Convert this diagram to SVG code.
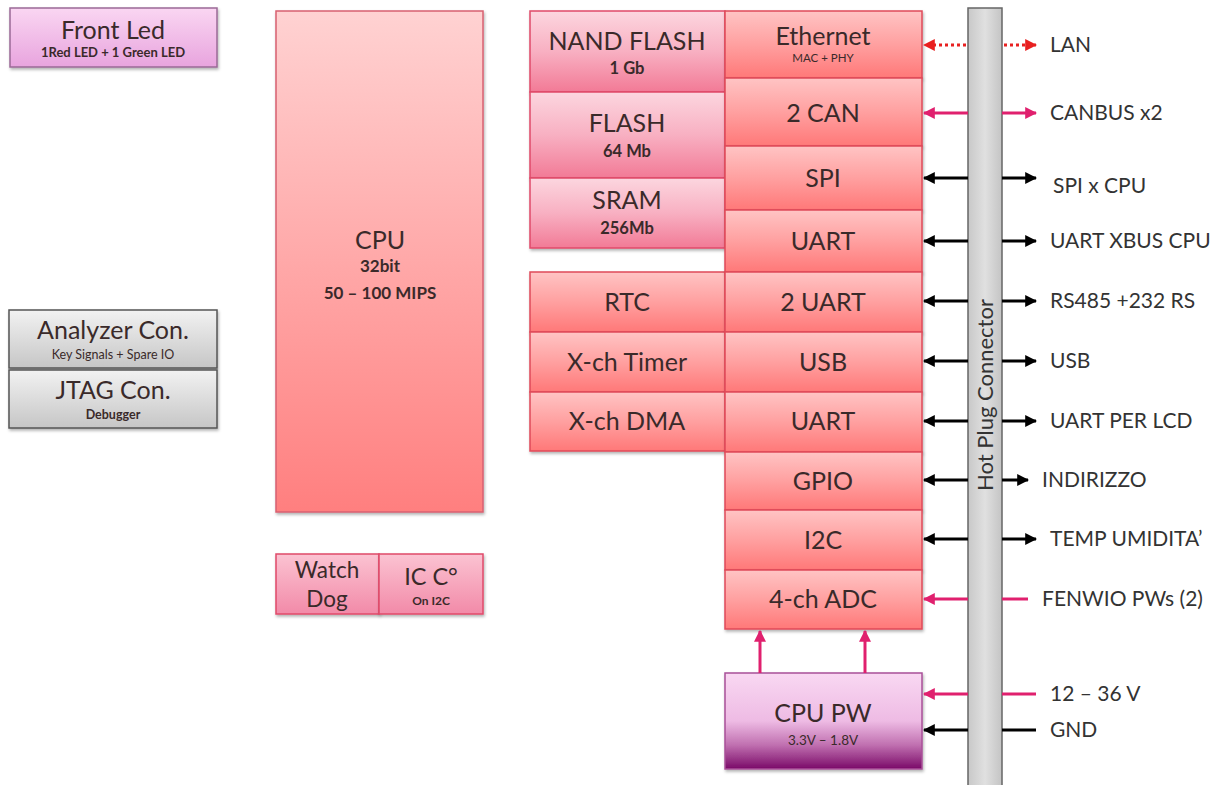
<svg xmlns="http://www.w3.org/2000/svg" width="1218" height="785" viewBox="0 0 1218 785">
<defs>
<linearGradient id="gCpu" x1="0" y1="0" x2="0" y2="1"><stop offset="0" stop-color="#ffd2d2"/><stop offset="1" stop-color="#ff7f7f"/></linearGradient>
<linearGradient id="gRed" x1="0" y1="0" x2="0" y2="1"><stop offset="0" stop-color="#ffc4c4"/><stop offset="0.5" stop-color="#ffa0a0"/><stop offset="1" stop-color="#ff7878"/></linearGradient>
<linearGradient id="gPink" x1="0" y1="0" x2="0" y2="1"><stop offset="0" stop-color="#fcd6df"/><stop offset="0.5" stop-color="#f8b0c2"/><stop offset="1" stop-color="#f27a96"/></linearGradient>
<linearGradient id="gWd" x1="0" y1="0" x2="0" y2="1"><stop offset="0" stop-color="#fbc3d2"/><stop offset="1" stop-color="#f28aa8"/></linearGradient>
<linearGradient id="gLed" x1="0" y1="0" x2="0" y2="1"><stop offset="0" stop-color="#fad6f2"/><stop offset="1" stop-color="#e8a4de"/></linearGradient>
<linearGradient id="gGray" x1="0" y1="0" x2="0" y2="1"><stop offset="0" stop-color="#f2f2f2"/><stop offset="1" stop-color="#c6c6c6"/></linearGradient>
<linearGradient id="gPw" x1="0" y1="0" x2="0" y2="1"><stop offset="0" stop-color="#f9d8f2"/><stop offset="0.5" stop-color="#eebbe4"/><stop offset="0.75" stop-color="#c070b0"/><stop offset="1" stop-color="#7a0a68"/></linearGradient>
<linearGradient id="gBar" x1="0" y1="0" x2="1" y2="0"><stop offset="0" stop-color="#c8c8c8"/><stop offset="0.5" stop-color="#e0e0e0"/><stop offset="1" stop-color="#c4c4c4"/></linearGradient>
<filter id="sh" x="-10%" y="-10%" width="130%" height="130%"><feDropShadow dx="1" dy="2" stdDeviation="1.5" flood-color="#000" flood-opacity="0.3"/></filter>
<marker id="aK" viewBox="0 0 10 10" refX="9" refY="5" markerWidth="4" markerHeight="4" orient="auto-start-reverse" markerUnits="strokeWidth"><path d="M0,0 L10,5 L0,10 z" fill="#000"/></marker>
<marker id="aP" viewBox="0 0 10 10" refX="9" refY="5" markerWidth="4" markerHeight="4" orient="auto-start-reverse" markerUnits="strokeWidth"><path d="M0,0 L10,5 L0,10 z" fill="#e0206e"/></marker>
<marker id="aR" viewBox="0 0 10 10" refX="9" refY="5" markerWidth="4" markerHeight="4" orient="auto-start-reverse" markerUnits="strokeWidth"><path d="M0,0 L10,5 L0,10 z" fill="#e82020"/></marker>
</defs>
<style>
text{font-family:Lato,"Liberation Sans",sans-serif;fill:#3a2a2a;text-anchor:middle}
.t{font-size:25px}
.s{font-size:16.5px;font-weight:bold}
.lbl{font-size:21px;text-anchor:start;fill:#333}
.red{fill:url(#gRed);stroke:#e04a5a;stroke-width:1.5}
.pink{fill:url(#gPink);stroke:#e04a6a;stroke-width:1.5}
.k{stroke:#000;stroke-width:3;fill:none}
.p{stroke:#e0206e;stroke-width:3;fill:none}
.r{stroke:#e82020;stroke-width:3;fill:none;stroke-dasharray:3,3}
</style>
<rect width="1218" height="785" fill="#fff"/>

<g id="front-led"><rect x="10" y="8" width="207" height="59" fill="url(#gLed)" stroke="#9a6a96" stroke-width="1.5" filter="url(#sh)"/><text x="113" y="39" class="t">Front Led</text><text x="113" y="57" style="font-size:13px;font-weight:bold">1Red LED + 1 Green LED</text></g>

<g id="analyzer"><rect x="9" y="310" width="208" height="58" fill="url(#gGray)" stroke="#555" stroke-width="1.5" filter="url(#sh)"/><text x="113" y="339" class="t">Analyzer  Con.</text><text x="113" y="359" style="font-size:12.5px">Key Signals + Spare IO</text></g>
<g id="jtag"><rect x="9" y="370" width="208" height="58" fill="url(#gGray)" stroke="#555" stroke-width="1.5" filter="url(#sh)"/><text x="113" y="399" class="t">JTAG Con.</text><text x="113" y="419" style="font-size:12.5px;font-weight:bold">Debugger</text></g>

<g id="cpu"><rect x="276" y="11" width="207" height="501" fill="url(#gCpu)" stroke="#d86070" stroke-width="1.5" filter="url(#sh)"/><text x="380" y="249" class="t">CPU</text><text x="380" y="272" style="font-size:17px;font-weight:bold">32bit</text><text x="380" y="299" style="font-size:17px;font-weight:bold">50 – 100 MIPS</text></g>

<g id="watchdog"><rect x="276" y="554" width="103" height="60" fill="url(#gWd)" stroke="#e04a6a" stroke-width="1.5" filter="url(#sh)"/><text x="327" y="578" style="font-size:22.5px">Watch</text><text x="327" y="607" style="font-size:22.5px">Dog</text></g>
<g id="icc"><rect x="379" y="554" width="104" height="60" fill="url(#gWd)" stroke="#e04a6a" stroke-width="1.5" filter="url(#sh)"/><text x="431" y="585" style="font-size:23.5px">IC C°</text><text x="431" y="605" style="font-size:12px;font-weight:bold">On I2C</text></g>

<g id="nand"><rect x="530" y="11" width="195" height="81" class="pink" filter="url(#sh)"/><text x="627" y="50" class="t">NAND FLASH</text><text x="627" y="74" class="s">1 Gb</text></g>
<g id="flash"><rect x="530" y="92" width="195" height="86" class="pink" filter="url(#sh)"/><text x="627" y="132" class="t">FLASH</text><text x="627" y="157" class="s">64 Mb</text></g>
<g id="sram"><rect x="530" y="178" width="195" height="70" class="pink" filter="url(#sh)"/><text x="627" y="209" class="t">SRAM</text><text x="627" y="234" class="s">256Mb</text></g>

<g id="rtc"><rect x="530" y="272" width="195" height="60" class="red" filter="url(#sh)"/><text x="627" y="311" class="t">RTC</text></g>
<g id="timer"><rect x="530" y="332" width="195" height="60" class="red" filter="url(#sh)"/><text x="627" y="371" class="t">X-ch Timer</text></g>
<g id="dma"><rect x="530" y="392" width="195" height="59" class="red" filter="url(#sh)"/><text x="627" y="430" class="t">X-ch DMA</text></g>

<g id="ethernet"><rect x="725" y="11" width="197" height="67" class="red" filter="url(#sh)"/><text x="823" y="45" class="t">Ethernet</text><text x="823" y="62" style="font-size:11.5px">MAC + PHY</text></g>
<g id="can"><rect x="725" y="78" width="197" height="68" class="red" filter="url(#sh)"/><text x="823" y="122" class="t">2 CAN</text></g>
<g id="spi"><rect x="725" y="146" width="197" height="64" class="red" filter="url(#sh)"/><text x="823" y="187" class="t">SPI</text></g>
<g id="uart1"><rect x="725" y="210" width="197" height="62" class="red" filter="url(#sh)"/><text x="823" y="250" class="t">UART</text></g>
<g id="uart2"><rect x="725" y="272" width="197" height="60" class="red" filter="url(#sh)"/><text x="823" y="311" class="t">2 UART</text></g>
<g id="usb"><rect x="725" y="332" width="197" height="60" class="red" filter="url(#sh)"/><text x="823" y="371" class="t">USB</text></g>
<g id="uart3"><rect x="725" y="392" width="197" height="60" class="red" filter="url(#sh)"/><text x="823" y="430" class="t">UART</text></g>
<g id="gpio"><rect x="725" y="452" width="197" height="58" class="red" filter="url(#sh)"/><text x="823" y="490" class="t">GPIO</text></g>
<g id="i2c"><rect x="725" y="510" width="197" height="60" class="red" filter="url(#sh)"/><text x="823" y="549" class="t">I2C</text></g>
<g id="adc"><rect x="725" y="570" width="197" height="59" class="red" filter="url(#sh)"/><text x="823" y="608" class="t">4-ch ADC</text></g>

<g id="cpupw"><rect x="725" y="673" width="197" height="96" fill="url(#gPw)" stroke="#a85098" stroke-width="1.5" filter="url(#sh)"/><text x="823" y="722" class="t">CPU PW</text><text x="823" y="745" style="font-size:13.5px">3.3V – 1.8V</text></g>

<g id="hotplug"><rect x="968" y="8" width="34" height="790" fill="url(#gBar)" stroke="#666" stroke-width="1.5"/><text transform="translate(993,395) rotate(-90)" style="font-size:22px;fill:#333">Hot Plug Connector</text></g>

<g id="connectors">
<line x1="966" y1="45" x2="924" y2="45" class="r" marker-end="url(#aR)"/>
<line x1="1004" y1="45" x2="1036" y2="45" class="r" marker-end="url(#aR)"/>
<line x1="968" y1="113" x2="924" y2="113" class="p" marker-end="url(#aP)"/>
<line x1="1002" y1="113" x2="1036" y2="113" class="p" marker-end="url(#aP)"/>
<line x1="968" y1="178" x2="924" y2="178" class="k" marker-end="url(#aK)"/>
<line x1="1002" y1="178" x2="1036" y2="178" class="k" marker-end="url(#aK)"/>
<line x1="968" y1="241" x2="924" y2="241" class="k" marker-end="url(#aK)"/>
<line x1="1002" y1="241" x2="1036" y2="241" class="k" marker-end="url(#aK)"/>
<line x1="968" y1="301" x2="924" y2="301" class="k" marker-end="url(#aK)"/>
<line x1="1002" y1="301" x2="1036" y2="301" class="k" marker-end="url(#aK)"/>
<line x1="968" y1="361" x2="924" y2="361" class="k" marker-end="url(#aK)"/>
<line x1="1002" y1="361" x2="1036" y2="361" class="k" marker-end="url(#aK)"/>
<line x1="968" y1="421" x2="924" y2="421" class="k" marker-end="url(#aK)"/>
<line x1="1002" y1="421" x2="1036" y2="421" class="k" marker-end="url(#aK)"/>
<line x1="968" y1="480" x2="924" y2="480" class="k" marker-end="url(#aK)"/>
<line x1="1002" y1="480" x2="1028" y2="480" class="k" marker-end="url(#aK)"/>
<line x1="968" y1="539" x2="924" y2="539" class="k" marker-end="url(#aK)"/>
<line x1="1002" y1="539" x2="1036" y2="539" class="k" marker-end="url(#aK)"/>
<line x1="968" y1="599" x2="924" y2="599" class="p" marker-end="url(#aP)"/>
<line x1="1002" y1="599" x2="1028" y2="599" class="p"/>
<line x1="968" y1="694" x2="924" y2="694" class="p" marker-end="url(#aP)"/>
<line x1="1002" y1="694" x2="1036" y2="694" class="p"/>
<line x1="968" y1="730" x2="924" y2="730" class="k" marker-end="url(#aK)"/>
<line x1="1002" y1="730" x2="1036" y2="730" class="k"/>
<line x1="760" y1="673" x2="760" y2="631" class="p" marker-end="url(#aP)"/>
<line x1="865" y1="673" x2="865" y2="631" class="p" marker-end="url(#aP)"/>
</g>

<g id="labels">
<text x="1050" y="52" class="lbl">LAN</text>
<text x="1050" y="120" class="lbl">CANBUS x2</text>
<text x="1053" y="193" class="lbl">SPI x CPU</text>
<text x="1050" y="248" class="lbl">UART XBUS CPU</text>
<text x="1050" y="308" class="lbl">RS485 +232 RS</text>
<text x="1050" y="368" class="lbl">USB</text>
<text x="1050" y="428" class="lbl">UART PER LCD</text>
<text x="1042" y="487" class="lbl">INDIRIZZO</text>
<text x="1050" y="546" class="lbl">TEMP UMIDITA’</text>
<text x="1042" y="606" class="lbl">FENWIO PWs (2)</text>
<text x="1050" y="701" class="lbl">12 – 36 V</text>
<text x="1050" y="737" class="lbl">GND</text>
</g>
</svg>
